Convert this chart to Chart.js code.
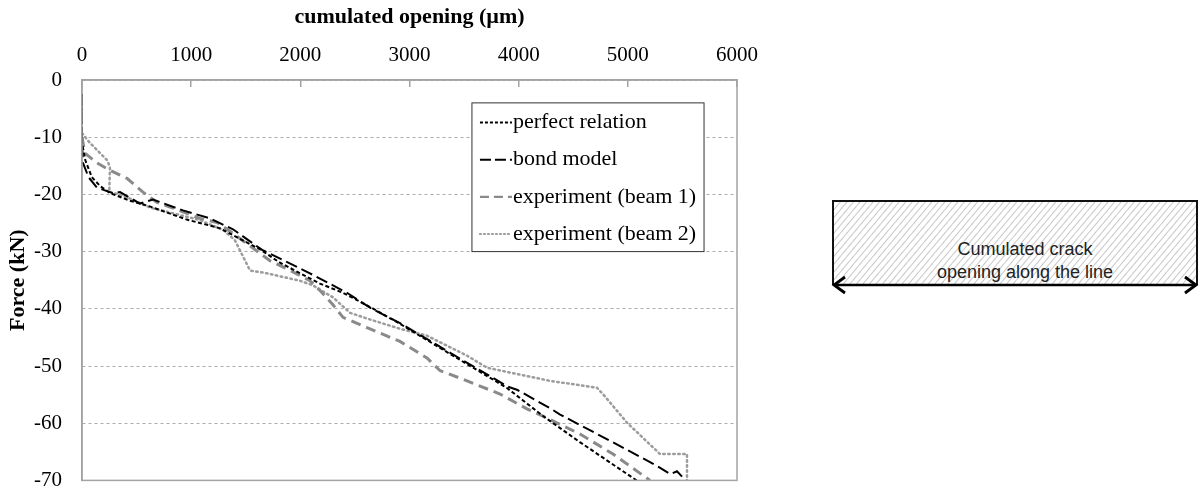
<!DOCTYPE html>
<html>
<head>
<meta charset="utf-8">
<script src="https://cdn.jsdelivr.net/npm/chart.js@4/dist/chart.umd.min.js"></script>
<style>
  html, body { margin: 0; padding: 0; background: #fff; }
  #wrap { position: relative; width: 1199px; height: 488px; overflow: hidden; }
  #chartBox { position: absolute; left: 0; top: 0; width: 777px; height: 513px; }
  #sketch { position: absolute; left: 826px; top: 195px; }
</style>
</head>
<body>
<div id="wrap">
  <div id="chartBox"><canvas id="chart"></canvas></div>
  <svg id="sketch" width="373" height="100" viewBox="0 0 373 100">
    <defs>
      <pattern id="hatch" width="5" height="5" patternUnits="userSpaceOnUse" patternTransform="rotate(40)">
        <line x1="0" y1="0" x2="0" y2="5" stroke="#a9a9a9" stroke-width="1.3"/>
      </pattern>
    </defs>
    <rect x="7" y="6" width="364" height="84" fill="url(#hatch)"/>
    <path d="M7 90 L7 6 L371 6 L371 90" fill="none" stroke="#111" stroke-width="2"/>
    <line x1="9" y1="90" x2="369" y2="90" stroke="#000" stroke-width="2.5"/>
    <path d="M19 82 L8 90 L19 98" fill="none" stroke="#000" stroke-width="2.8"/>
    <path d="M359 82 L370 90 L359 98" fill="none" stroke="#000" stroke-width="2.8"/>
    <text x="199" y="60" text-anchor="middle" font-family="Liberation Sans, Arial" font-size="18" fill="#222">Cumulated crack</text>
    <text x="199" y="83" text-anchor="middle" font-family="Liberation Sans, Arial" font-size="18" fill="#222">opening along the line</text>
  </svg>
</div>
<script>
// ---- data (opening in µm, force in kN) ----
const xTicks = [0, 1000, 2000, 3000, 4000, 5000, 6000];
const yTicks = [0, -10, -20, -30, -40, -50, -60, -70];

const perfectX = [0, 0, 30, 90, 170, 260, 440, 620, 960, 1260, 1630, 1810, 2180, 2390, 2670, 2910, 3460, 3890, 4220, 4560, 5080];
const perfectY = [-2.5, -11, -14, -17, -18.6, -19.8, -21.1, -22.1, -24.4, -25.9, -29.6, -31.9, -35.6, -37.2, -40.0, -42.6, -48.9, -53.8, -58.7, -63.3, -70];

const bondX = [0, 0, 9, 60, 137, 284, 348, 531, 650, 925, 1172, 1383, 1650, 2088, 2427, 2638, 2913, 3462, 3900, 3990, 4290, 4380, 4840, 5270, 5390, 5450, 5530];
const bondY = [-2.5, -11, -14.5, -17, -18.8, -19.8, -19.6, -21.6, -20.9, -22.8, -24.2, -26.1, -29.7, -33.8, -37.2, -39.8, -42.5, -48.7, -53.6, -54.2, -57.4, -58.5, -63.1, -67.5, -68.9, -68.4, -70];

const beam1X = [0, 27, 137, 256, 412, 559, 687, 834, 1081, 1237, 1383, 1566, 1722, 1878, 2088, 2180, 2299, 2391, 2611, 2913, 3160, 3279, 3527, 3829, 4076, 4259, 4562, 4864, 5203];
const beam1Y = [-10, -12.8, -14.5, -15.8, -17.2, -19.6, -21.4, -22.4, -24.2, -24.9, -26.8, -29.4, -31.6, -33.0, -35.1, -36.8, -39.3, -41.5, -43.3, -45.7, -48.6, -50.8, -52.6, -54.9, -57.5, -59.1, -61.9, -65.4, -70];

const beam2X = [0, 73, 229, 256, 250, 412, 623, 834, 1081, 1300, 1400, 1539, 1695, 1997, 2116, 2299, 2455, 2611, 2913, 3160, 3527, 3710, 3985, 4287, 4717, 4772, 4992, 5295, 5542, 5542];
const beam2Y = [-9.3, -11.0, -14.0, -15.2, -19.5, -20.5, -22.3, -23.3, -24.5, -26.3, -28.0, -33.3, -33.8, -35.1, -35.9, -38.0, -40.7, -41.7, -43.5, -44.7, -48.2, -50.3, -51.4, -52.6, -53.8, -54.9, -59.9, -65.4, -65.4, -70];

const seriesNames = ["perfect relation", "bond model", "experiment (beam 1)", "experiment (beam 2)"];

const zip = (xs, ys) => xs.map((x, i) => ({ x: x, y: ys[i] }));
const serif = "'Liberation Serif', 'Times New Roman', serif";
const axisGray = "#a3a3a3";

// plot frame + legend drawn inside the chart area
const framePlugin = {
  id: "frame",
  afterDatasetsDraw(chart) {
    const { ctx, chartArea: a } = chart;
    ctx.save();
    ctx.strokeStyle = axisGray;
    ctx.lineWidth = 1.5;
    ctx.setLineDash([]);
    ctx.strokeRect(a.left, a.top, a.right - a.left, a.bottom - a.top);

    // legend box
    const xs = chart.scales.x, ys = chart.scales.y;
    const lx = xs.getPixelForValue(3572), rx = xs.getPixelForValue(5698);
    const ty = ys.getPixelForValue(-4.0), by = ys.getPixelForValue(-30);
    ctx.fillStyle = "#fff";
    ctx.fillRect(lx, ty, rx - lx, by - ty);
    ctx.strokeStyle = "#333";
    ctx.lineWidth = 1;
    ctx.strokeRect(lx, ty, rx - lx, by - ty);
    const rowH = (by - ty) / 4;
    ctx.font = "22px " + serif;
    ctx.textBaseline = "middle";
    chart.data.datasets.forEach((ds, i) => {
      const cy = ty + rowH * (i + 0.5) + 1;
      ctx.strokeStyle = ds.borderColor;
      ctx.lineWidth = Math.min(ds.borderWidth, 2.2);
      ctx.lineCap = ds.borderCapStyle || "butt";
      ctx.setLineDash(ds.legendDash);
      ctx.beginPath();
      ctx.moveTo(lx + 8, cy);
      ctx.lineTo(lx + 40, cy);
      ctx.stroke();
      ctx.setLineDash([]);
      ctx.fillStyle = "#000";
      ctx.fillText(ds.label, lx + 41, cy);
    });
    ctx.restore();
  }
};

new Chart(document.getElementById("chart"), {
  type: "scatter",
  data: {
    datasets: [
      { label: seriesNames[0], data: zip(perfectX, perfectY), borderColor: "#000", borderWidth: 2,
        borderDash: [4, 2.5], legendDash: [3, 2] },
      { label: seriesNames[1], data: zip(bondX, bondY), borderColor: "#000", borderWidth: 2,
        borderDash: [12, 5], legendDash: [11, 4] },
      { label: seriesNames[2], data: zip(beam1X, beam1Y), borderColor: "#8a8a8a", borderWidth: 3,
        borderDash: [10, 6], legendDash: [9, 5] },
      { label: seriesNames[3], data: zip(beam2X, beam2Y), borderColor: "#9c9c9c", borderWidth: 2.5,
        borderDash: [1.5, 3.5], borderCapStyle: "round", legendDash: [1, 3] }
    ].map(d => Object.assign(d, { showLine: true, pointRadius: 0, tension: 0, fill: false }))
  },
  options: {
    responsive: true,
    maintainAspectRatio: false,
    animation: false,
    layout: { padding: { left: 0, right: 0, top: 0, bottom: 8 } },
    plugins: { legend: { display: false }, tooltip: { enabled: false } },
    scales: {
      x: {
        type: "linear",
        position: "top",
        min: 0, max: 6000,
        afterBuildTicks: s => { s.ticks = xTicks.map(v => ({ value: v })); },
        afterFit: s => { s.height = 80; },
        grid: { drawOnChartArea: false, color: axisGray, lineWidth: 1.5, tickLength: -7 },
        border: { color: axisGray, width: 1.5 },
        ticks: { color: "#000", font: { family: serif, size: 21 }, padding: 19, maxRotation: 0,
                 callback: v => String(v) },
        title: { display: true, text: "cumulated opening (µm)", color: "#000",
                 font: { family: serif, size: 22, weight: "bold" }, padding: { top: 4, bottom: 0 } }
      },
      y: {
        type: "linear",
        min: -70, max: 0,
        afterBuildTicks: s => { s.ticks = yTicks.map(v => ({ value: v })); },
        afterFit: s => { s.width = 82; },
        grid: { color: "#ababab", lineWidth: 1, drawTicks: false },
        border: { color: axisGray, width: 1.5, dash: [3, 3] },
        ticks: { color: "#000", font: { family: serif, size: 21 }, padding: 20,
                 callback: v => String(v) },
        title: { display: true, text: "Force (kN)", color: "#000",
                 font: { family: serif, size: 22, weight: "bold" }, padding: { top: 5, bottom: 0 } }
      }
    }
  },
  plugins: [framePlugin]
});
</script>
</body>
</html>
